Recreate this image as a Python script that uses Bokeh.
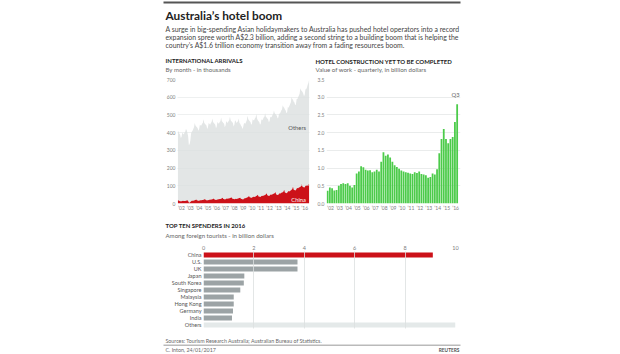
from bokeh.plotting import figure
from bokeh.layouts import column, row
from bokeh.models import Range1d, FactorRange, Label, FixedTicker, Spacer, BoxAnnotation, NumeralTickFormatter
from bokeh.embed import file_html
from bokeh.resources import INLINE

FONT = "Lato"

# ---------------- data ----------------
title_text = "Australia’s hotel boom"
desc_lines = [
    "A surge in big-spending Asian holidaymakers to Australia has pushed hotel operators into a record",
    "expansion spree worth A$2.3 billion, adding a second string to a building boom that is helping the",
    "country’s A$1.6 trillion economy transition away from a fading resources boom.",
]

start_year = 2002
year_labels = ["’02", "’03", "’04", "’05", "’06", "’07", "’08", "’09", "’10", "’11", "’12", "’13", "’14", "’15", "’16"]

# monthly total international arrivals (thousands), Jan 2002 - Dec 2016
total = [
    410, 405, 395, 390, 370, 375, 400, 395, 390, 400, 405, 420,
    415, 400, 380, 330, 335, 355, 395, 405, 410, 420, 430, 455,
    440, 435, 430, 425, 410, 420, 445, 440, 440, 450, 455, 475,
    455, 450, 445, 440, 420, 430, 455, 450, 445, 455, 460, 480,
    460, 455, 450, 445, 425, 435, 460, 455, 450, 460, 465, 485,
    465, 460, 455, 450, 430, 440, 465, 460, 455, 465, 470, 490,
    470, 465, 460, 455, 435, 445, 470, 465, 455, 460, 465, 480,
    455, 450, 440, 435, 420, 430, 450, 455, 450, 460, 470, 495,
    475, 470, 465, 460, 445, 450, 475, 470, 470, 480, 485, 505,
    480, 470, 465, 460, 445, 450, 475, 470, 475, 485, 490, 510,
    490, 485, 480, 475, 460, 465, 490, 485, 490, 500, 505, 525,
    510, 505, 500, 495, 480, 485, 510, 505, 515, 525, 530, 555,
    545, 540, 530, 525, 510, 515, 545, 540, 550, 560, 570, 600,
    590, 585, 575, 570, 555, 560, 590, 590, 600, 610, 620, 650,
    640, 635, 630, 620, 605, 615, 645, 645, 655, 670, 680, 700,
]
# monthly arrivals from China (thousands)
china = [
    16, 18, 14, 13, 12, 12, 14, 15, 14, 14, 14, 15,
    17, 18, 14, 6, 4, 8, 13, 15, 15, 16, 17, 18,
    20, 22, 18, 17, 16, 16, 18, 19, 19, 20, 20, 21,
    23, 25, 20, 19, 18, 18, 20, 21, 21, 22, 22, 24,
    26, 28, 22, 21, 20, 21, 23, 24, 24, 25, 26, 27,
    29, 32, 26, 25, 23, 24, 27, 28, 27, 28, 29, 30,
    33, 35, 28, 27, 25, 24, 26, 27, 26, 27, 28, 29,
    31, 33, 27, 26, 24, 22, 27, 30, 30, 32, 33, 35,
    38, 42, 35, 34, 32, 33, 37, 38, 37, 38, 40, 42,
    45, 50, 40, 39, 37, 38, 42, 44, 43, 45, 46, 48,
    52, 58, 47, 45, 43, 44, 49, 51, 50, 52, 54, 56,
    58, 65, 52, 50, 48, 50, 55, 58, 57, 60, 62, 64,
    68, 78, 62, 60, 58, 60, 66, 70, 68, 72, 74, 78,
    82, 95, 78, 76, 74, 76, 84, 88, 86, 90, 92, 95,
    98, 108, 95, 93, 90, 92, 100, 103, 101, 104, 106, 108,
]

# quarterly hotel construction yet to be completed (A$ billion), Q1 2002 - Q3 2016
construction = [
    0.36, 0.45, 0.43, 0.37,
    0.38, 0.50, 0.55, 0.57,
    0.55, 0.57, 0.50, 0.45,
    0.52, 0.85, 0.90, 1.05,
    1.02, 0.95, 0.93, 0.94,
    0.88, 0.90, 0.95, 0.90,
    1.18, 1.45, 1.35, 1.38,
    1.30, 1.18, 1.08, 1.03,
    0.98, 0.93, 0.90, 0.88,
    0.87, 0.85, 0.83, 0.88,
    0.86, 0.90, 0.83, 0.82,
    0.80, 0.73, 0.75, 0.85,
    0.82, 0.97, 1.42, 1.82,
    2.10, 1.82, 1.70, 1.82,
    1.88, 2.30, 2.80,
]

spenders = ["China", "U.S.", "UK", "Japan", "South Korea", "Singapore", "Malaysia",
            "Hong Kong", "Germany", "India", "Others"]
spend = [9.1, 3.73, 3.73, 1.62, 1.60, 1.46, 1.20, 1.20, 1.17, 1.13, 10.0]

left_ticks = [0, 100, 200, 300, 400, 500, 600, 700]
right_ticks = [0.0, 0.5, 1.0, 1.5, 2.0, 2.5, 3.0, 3.5]
bottom_ticks = [0, 2, 4, 6, 8, 10]

# ---------------- styles ----------------
RED = "#cc1119"
GREEN = "#4ccb4a"
AREA_GRAY = "#e3e6e6"
BAR_GRAY = "#9ca3a5"
LIGHT_BAR = "#e4e9e9"
TXT = "#222222"
SUB = "#666666"
TICK = "#808080"
GRID = "#dcdfdf"
HEAD_SIZE = "6px"
SUBHEAD_SIZE = "6.1px"


def text_fig(w, h):
    f = figure(width=w, height=h, x_range=Range1d(0, w), y_range=Range1d(h, 0),
               output_backend="svg", toolbar_location=None, min_border=0,
               min_border_left=0, min_border_right=0, min_border_top=0, min_border_bottom=0,
               x_axis_location=None, y_axis_location=None)
    f.grid.visible = False
    f.outline_line_color = None
    return f


def lab(f, x, y, text, size, color=TXT, bold=False, align="left"):
    f.add_layout(Label(x=x, y=y, text=text, text_font=FONT, text_font_size=size,
                       text_font_style="bold" if bold else "normal", text_color=color,
                       text_baseline="middle", text_align=align))


def style_axes(p, size="5px"):
    for ax in p.axis:
        ax.axis_line_color = None
        ax.major_tick_line_color = None
        ax.minor_tick_line_color = None
        ax.major_tick_out = 0
        ax.major_tick_in = 0
        ax.minor_tick_out = 0
        ax.minor_tick_in = 0
        ax.major_label_text_font = FONT
        ax.major_label_text_font_size = size
        ax.major_label_text_color = TICK
        ax.major_label_standoff = 2


# ---------------- header ----------------
hdr = text_fig(620, 74)
hdr.add_layout(BoxAnnotation(left=163, right=460, top=1, bottom=3, fill_color="#555555",
                             fill_alpha=1, line_color=None))
lab(hdr, 165, 14.5, title_text, "11.8px", bold=True)
for i, line in enumerate(desc_lines):
    lab(hdr, 165, 28 + 8 * i, line, "6.9px", color="#444444")
lab(hdr, 165, 60, "INTERNATIONAL ARRIVALS", HEAD_SIZE, bold=True)
lab(hdr, 165, 69, "By month - in thousands", SUBHEAD_SIZE, color=SUB)
lab(hdr, 315, 60.5, "HOTEL CONSTRUCTION YET TO BE COMPLETED", HEAD_SIZE, bold=True)
lab(hdr, 315, 68.5, "Value of work - quarterly, in billion dollars", SUBHEAD_SIZE, color=SUB)

# ---------------- left chart ----------------
mx = [start_year + (i + 0.5) / 12 for i in range(len(total))]
pl = figure(width=149, height=140, x_range=Range1d(start_year, start_year + 15),
            y_range=Range1d(0, 700), output_backend="svg", toolbar_location=None,
            min_border_left=13, min_border_right=3, min_border_top=5, min_border_bottom=11)
pl.outline_line_color = None
pl.varea(x=mx, y1=china, y2=total, fill_color=AREA_GRAY)
pl.varea(x=mx, y1=[0] * len(china), y2=china, fill_color=RED)
ycen = [start_year + k + 0.45 for k in range(len(year_labels))]
pl.xaxis.ticker = FixedTicker(ticks=ycen)
pl.xaxis.major_label_overrides = {t: s for t, s in zip(ycen, year_labels)}
pl.yaxis.ticker = FixedTicker(ticks=left_ticks)
pl.xgrid.visible = False
pl.ygrid.grid_line_color = GRID
pl.ygrid.grid_line_width = 0.6
pl.ygrid.level = "overlay"
pl.ygrid.grid_line_alpha = 0.8
style_axes(pl)
pl.xaxis.major_label_standoff = 1
pl.add_layout(Label(x=2016.6, y=430, text="Others", text_font=FONT, text_font_size="5.8px",
                    text_color="#555555", text_align="right", text_baseline="middle"))
pl.add_layout(Label(x=2016.6, y=25, text="China", text_font=FONT, text_font_size="5.8px",
                    text_color="white", text_align="right", text_baseline="middle"))

# ---------------- right chart ----------------
qx = [start_year + (i + 0.5) / 4 for i in range(len(construction))]
pr = figure(width=150, height=140, x_range=Range1d(start_year, start_year + 15),
            y_range=Range1d(0, 3.5), output_backend="svg", toolbar_location=None,
            min_border_left=14, min_border_right=2, min_border_top=5, min_border_bottom=11)
pr.outline_line_color = None
pr.vbar(x=qx, top=construction, width=0.2, fill_color=GREEN, line_color=None)
pr.xaxis.ticker = FixedTicker(ticks=ycen)
pr.xaxis.major_label_overrides = {t: s for t, s in zip(ycen, year_labels)}
pr.yaxis.ticker = FixedTicker(ticks=right_ticks)
pr.yaxis.formatter = NumeralTickFormatter(format="0.0")
pr.xgrid.visible = False
pr.ygrid.grid_line_color = GRID
pr.ygrid.grid_line_width = 0.6
style_axes(pr)
pr.xaxis.major_label_standoff = 1
pr.add_layout(Label(x=2016.45, y=3.07, text="Q3", text_font=FONT, text_font_size="5.8px",
                    text_color="#666666", text_align="center", text_baseline="middle"))

mid = row(Spacer(width=163, height=140), pl, pr, Spacer(width=158, height=140))

# ---------------- bottom header ----------------
hdr2 = text_fig(620, 28)
lab(hdr2, 165, 11, "TOP TEN SPENDERS IN 2016", HEAD_SIZE, bold=True)
lab(hdr2, 165, 21, "Among foreign tourists - in billion dollars", SUBHEAD_SIZE, color=SUB)

# ---------------- bottom bar chart ----------------
colors = [RED] + [BAR_GRAY] * 9 + [LIGHT_BAR]
pb = figure(width=620, height=88, x_range=Range1d(0, 10),
            y_range=FactorRange(factors=list(reversed(spenders))),
            output_backend="svg", toolbar_location=None, x_axis_location="above",
            min_border_left=203, min_border_right=165, min_border_top=9, min_border_bottom=2)
pb.outline_line_color = None
pb.hbar(y=spenders, right=spend, height=0.7, fill_color=colors, line_color=None)
pb.xaxis.ticker = FixedTicker(ticks=bottom_ticks)
pb.ygrid.visible = False
pb.xgrid.grid_line_color = GRID
pb.xgrid.grid_line_width = 0.8
pb.xgrid.level = "overlay"
style_axes(pb, "5.5px")
pb.yaxis.major_label_text_font_size = "5.5px"
pb.yaxis.major_label_text_color = "#555555"
bottom = row(pb, Spacer(width=0, height=88))

# ---------------- footer ----------------
ftr = text_fig(620, 24)
lab(ftr, 165, 10, "Sources: Tourism Research Australia; Australian Bureau of Statistics.", "5.3px", color="#666666")
ftr.add_layout(BoxAnnotation(left=163, right=460, top=14.3, bottom=15.1, fill_color="#777777",
                             fill_alpha=1, line_color=None))
lab(ftr, 165, 19.5, "C. Inton, 24/01/2017", "5.3px", color="#666666")
lab(ftr, 459, 19.5, "REUTERS", "4.8px", color="#555555", bold=True, align="right")

layout = column(hdr, mid, hdr2, bottom, ftr)
open("out.html", "w").write(file_html(layout, INLINE))
